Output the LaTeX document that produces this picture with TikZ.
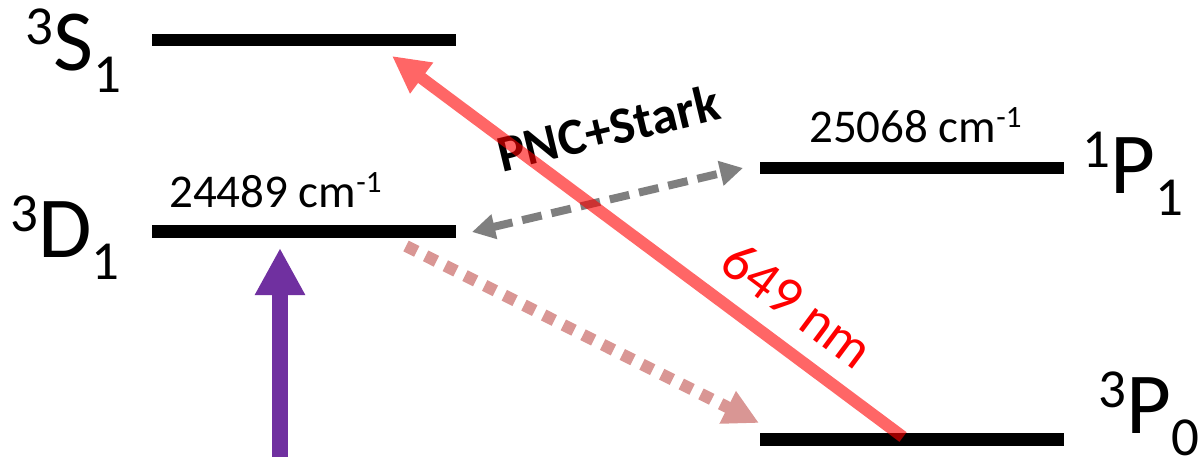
\documentclass[tikz,border=0pt]{standalone}
\usepackage{fontspec}
\setmainfont{Carlito}
\usetikzlibrary{arrows.meta}
\definecolor{pinkarrow}{RGB}{217,150,148}
\definecolor{purplearrow}{RGB}{112,48,160}
\definecolor{grayarrow}{RGB}{127,127,127}
\newcommand{\bigfs}{\fontsize{87}{87}\selectfont}
\newcommand{\scrfs}{\fontsize{55}{55}\selectfont}
\newcommand{\termlab}[3]{\raisebox{26pt}{\scrfs #1}{\bigfs #2}\raisebox{-22pt}{\scrfs #3}}
\newcommand{\wavenum}[1]{{\fontsize{47}{47}\selectfont #1 cm\raisebox{15pt}{\fontsize{31}{31}\selectfont -1}}}
\tikzset{
  energylevel/.style={fill=black, draw=none, minimum width=304pt, minimum height=12.5pt, inner sep=0pt, outer sep=0pt},
  termtext/.style={anchor=base west, inner sep=0pt},
  wntext/.style={anchor=base west, inner sep=0pt},
}
\begin{document}
\begin{tikzpicture}[x=1pt,y=-1pt]
\useasboundingbox (0,0) rectangle (1203,456);
% levels
\node[energylevel] (S1) at (304,40) {};
\node[energylevel] (D1) at (304,231.5) {};
\node[energylevel] (P1) at (912,168) {};
\node[energylevel] (P0) at (912,439.5) {};
% term labels
\node[termtext] (lS) at (25,70) {\termlab{3}{S}{1}};
\node[termtext] (lD) at (10,257) {\termlab{3}{D}{1}};
\node[termtext] (lP1) at (1082,193) {\termlab{1}{P}{1}};
\node[termtext] (lP0) at (1098,433) {\termlab{3}{P}{0}};
% wavenumbers
\node[wntext] (wD) at (169,207) {\wavenum{24489}};
\node[wntext] (wP) at (809,142) {\wavenum{25068}};
% PNC+Stark
\node[rotate=13.5, inner sep=0pt] (pnc) at (608,128) {\fontsize{52}{52}\selectfont\bfseries PNC+Stark};
% 649 nm
\node[rotate=-36.7, inner sep=0pt, text=red] (nm) at (798,305) {\fontsize{56}{56}\selectfont 649 nm};
% coordinates
\coordinate (purpleStart) at (280,460);
\coordinate (purpleTip) at (280,248);
\coordinate (pinkStart) at (406,246);
\coordinate (pinkTip) at (759,423);
\coordinate (grayL) at (472,232);
\coordinate (grayR) at (743,168);
\coordinate (redStart) at (903,437);
\coordinate (redTip) at (392,56);
% arrows
\draw[purplearrow, line width=16pt, -{Triangle[length=47pt,width=47pt]}] (purpleStart) -- (purpleTip);
\draw[pinkarrow, line width=12pt, dash pattern=on 12pt off 10pt, -{Triangle[length=35pt,width=34pt]}] (pinkStart) -- (pinkTip);
\draw[grayarrow, line width=8pt, dash pattern=on 20pt off 10pt, {Triangle[length=23pt,width=24pt]}-{Triangle[length=23pt,width=24pt]}] (grayL) -- (grayR);
\begin{scope}[transparency group, opacity=0.6]
\draw[red, line width=12pt, -{Triangle[length=37pt,width=36pt]}] (redStart) -- (redTip);
\end{scope}
\end{tikzpicture}
\end{document}
